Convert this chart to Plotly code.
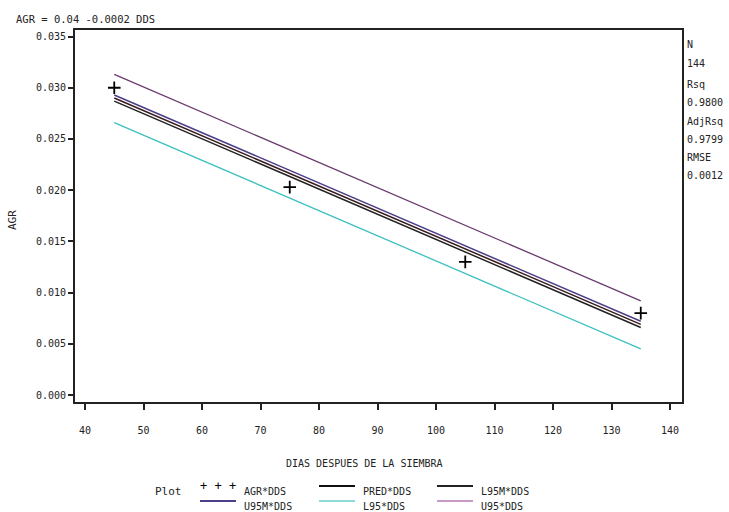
import plotly.graph_objects as go

# ---- data ----
dds_obs = [45, 75, 105, 135]
agr_obs = [0.0300, 0.0203, 0.0130, 0.0080]

dds_line = [45, 135]
pred = [0.0290, 0.0069]
u95m = [0.0293, 0.0072]
l95m = [0.0287, 0.0066]
u95 = [0.0313, 0.0092]
l95 = [0.0266, 0.0045]

x_ticks = [40, 50, 60, 70, 80, 90, 100, 110, 120, 130, 140]
y_ticks = [0.000, 0.005, 0.010, 0.015, 0.020, 0.025, 0.030, 0.035]
y_tick_labels = ["0.000", "0.005", "0.010", "0.015", "0.020", "0.025", "0.030", "0.035"]

stats_labels = ["N", "144", "Rsq", "0.9800", "AdjRsq", "0.9799", "RMSE", "0.0012"]
legend_items = [
    ("AGR*DDS", "marker", "black"),
    ("PRED*DDS", "line", "#111111"),
    ("L95M*DDS", "line", "#222222"),
    ("U95M*DDS", "line", "#4b3f8a"),
    ("L95*DDS", "line", "#8fdada"),
    ("U95*DDS", "line", "#c89ac8"),
]

FONT = "DejaVu Sans Mono"
C_U95 = "#6a3a6e"
C_L95 = "#3cc0c0"
C_U95M = "#4b3f8a"
TXT = "#222222"

fig = go.Figure()
fig.add_trace(go.Scatter(x=dds_line, y=u95, mode="lines", line=dict(color=C_U95, width=1.3), showlegend=False))
fig.add_trace(go.Scatter(x=dds_line, y=l95, mode="lines", line=dict(color=C_L95, width=1.3), showlegend=False))
fig.add_trace(go.Scatter(x=dds_line, y=u95m, mode="lines", line=dict(color=C_U95M, width=1.5), showlegend=False))
fig.add_trace(go.Scatter(x=dds_line, y=pred, mode="lines", line=dict(color="#3a1a1a", width=1.5), showlegend=False))
fig.add_trace(go.Scatter(x=dds_line, y=l95m, mode="lines", line=dict(color="#222222", width=1.5), showlegend=False))
fig.add_trace(go.Scatter(x=dds_obs, y=agr_obs, mode="markers",
                         marker=dict(symbol="cross-thin", size=9, line=dict(color="black", width=1.8)),
                         showlegend=False))

L, R, T, B = 75, 47, 30, 110
W, H = 729, 512
pw, ph = W - L - R, H - T - B

def px(x):
    return (x - L) / pw

def py(y):
    return (H - B - y) / ph

ann = []
shapes = []
ann.append(dict(text="AGR = 0.04 -0.0002 DDS", x=px(14), y=py(19), xref="paper", yref="paper",
                xanchor="left", yanchor="middle", showarrow=False, font=dict(family=FONT, size=10.5, color=TXT)))
stat_y = [45, 63, 84, 102, 121, 139, 157, 175]
for t, yy in zip(stats_labels, stat_y):
    ann.append(dict(text=t, x=px(685), y=py(yy), xref="paper", yref="paper", xanchor="left", yanchor="middle",
                    showarrow=False, font=dict(family=FONT, size=10, color=TXT)))

# axis titles
ann.append(dict(text="DIAS DESPUES DE LA SIEMBRA", x=px(364), y=py(463), xref="paper", yref="paper",
                xanchor="center", yanchor="middle", showarrow=False, font=dict(family=FONT, size=10, color=TXT)))
ann.append(dict(text="AGR", x=px(12), y=py(220), xref="paper", yref="paper", textangle=-90,
                xanchor="center", yanchor="middle", showarrow=False, font=dict(family=FONT, size=11, color=TXT)))

ann.append(dict(text="Plot", x=px(153), y=py(491), xref="paper", yref="paper", xanchor="left", yanchor="middle",
                showarrow=False, font=dict(family=FONT, size=11, color=TXT)))
cols = [200, 319, 437]
rows = [491, 506]
for i, (name, kind, color) in enumerate(legend_items):
    cx = cols[i % 3]
    ry = rows[i // 3]
    if kind == "marker":
        ann.append(dict(text="+ + +", x=px(cx - 2), y=py(ry - 5), xref="paper", yref="paper", xanchor="left",
                        yanchor="middle", showarrow=False, font=dict(family=FONT, size=12, color="black")))
    else:
        shapes.append(dict(type="line", xref="paper", yref="paper", x0=px(cx), x1=px(cx + 36),
                           y0=py(ry - 5), y1=py(ry - 5), line=dict(color=color, width=2)))
    ann.append(dict(text=name, x=px(cx + 42), y=py(ry), xref="paper", yref="paper", xanchor="left",
                    yanchor="middle", showarrow=False, font=dict(family=FONT, size=10, color=TXT)))

fig.update_layout(
    width=W, height=H,
    margin=dict(l=L, r=R, t=T, b=B, pad=0),
    paper_bgcolor="white", plot_bgcolor="white",
    showlegend=False,
    annotations=ann, shapes=shapes,
    font=dict(family=FONT, size=10, color=TXT),
)
fig.update_xaxes(range=[38.29, 142.05], tickvals=x_ticks, ticks="outside", ticklen=6, tickwidth=1.5,
                 tickcolor=TXT, showgrid=False, zeroline=False, showline=True, linecolor=TXT,
                 linewidth=2, mirror=True, tickfont=dict(family=FONT, size=10), ticklabelstandoff=12)
fig.update_yaxes(range=[-0.00068, 0.03564], tickvals=y_ticks, ticktext=y_tick_labels, ticks="outside",
                 ticklen=5, tickwidth=1.5, tickcolor=TXT, showgrid=False, zeroline=False, showline=True,
                 linecolor=TXT, linewidth=2, mirror=True, tickfont=dict(family=FONT, size=10))

fig.write_html("out.html", config={"displayModeBar": False},
               post_script="document.body.style.margin='0';document.body.style.overflow='hidden';")
